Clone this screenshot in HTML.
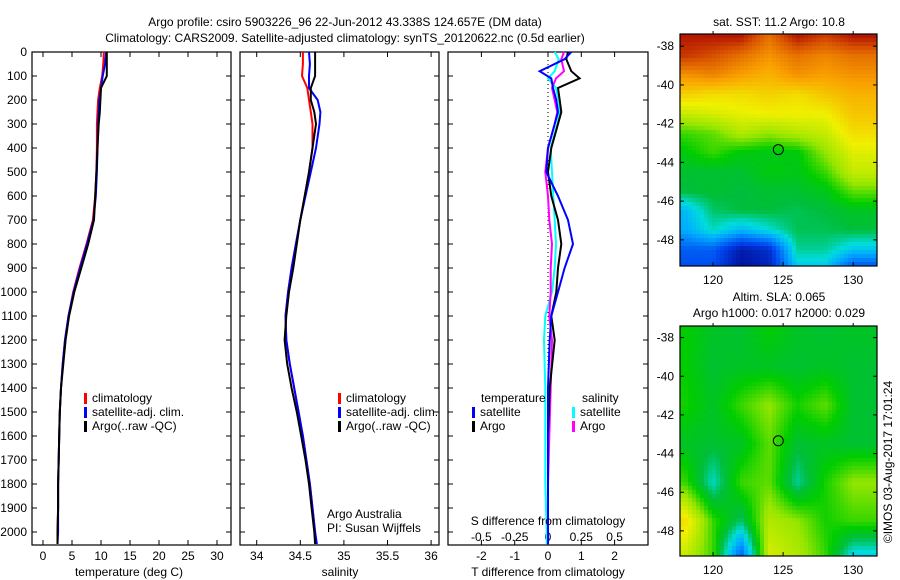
<!DOCTYPE html>
<html><head><meta charset="utf-8"><style>
body{margin:0;background:#fff}
svg{display:block;font-family:"Liberation Sans",sans-serif;font-size:12px}
</style></head><body>
<svg id="fig" width="900" height="580" viewBox="0 0 900 580"></svg>
<script>
const depths=[0,50,100,150,200,250,300,400,500,600,700,800,900,1000,1100,1200,1300,1400,1500,1600,1700,1800,1900,2000,2050];
const tempClim=[10.5,10.4,10.2,9.8,9.5,9.4,9.3,9.3,9.2,9.0,8.6,7.5,6.3,5.2,4.4,3.8,3.4,3.1,2.9,2.8,2.7,2.6,2.6,2.5,2.5];
const tempSat=[10.9,10.7,10.3,10.0,9.7,9.6,9.5,9.4,9.3,9.1,8.7,7.6,6.4,5.3,4.4,3.8,3.4,3.1,2.9,2.8,2.7,2.6,2.6,2.6,2.5];
const tempArgo=[11.0,11.0,11.0,10.0,9.9,9.8,9.6,9.4,9.2,9.0,8.8,7.8,6.6,5.4,4.5,3.9,3.5,3.1,2.9,2.8,2.7,2.6,2.6,2.5,2.5];
const salClim=[34.53,34.53,34.52,34.58,34.6,34.62,34.64,34.64,34.6,34.55,34.5,34.45,34.4,34.36,34.33,34.34,34.38,34.43,34.48,34.53,34.57,34.61,34.64,34.67,34.68];
const salSat=[34.6,34.61,34.6,34.6,34.7,34.73,34.72,34.68,34.62,34.56,34.5,34.45,34.4,34.36,34.33,34.34,34.38,34.43,34.48,34.53,34.57,34.61,34.64,34.67,34.69];
const salArgo=[34.67,34.67,34.67,34.62,34.62,34.66,34.68,34.64,34.6,34.55,34.5,34.46,34.42,34.37,34.34,34.32,34.35,34.4,34.46,34.51,34.56,34.6,34.63,34.66,34.67];
const depthsD=[0,30,80,110,150,200,250,300,400,500,600,700,800,900,1000,1100,1200,1400,1600,1800,2000,2050];
const tDiffSat=[0.7,0.5,-0.25,0.1,0.15,0.25,0.3,0.2,0.0,-0.05,0.3,0.6,0.75,0.5,0.3,0.1,0.05,0.0,0.0,0.0,0.0,0.0];
const tDiffArgo=[0.6,0.55,0.7,0.95,0.3,0.35,0.4,0.3,0.1,0.0,0.1,0.3,0.4,0.3,0.25,0.1,0.2,0.05,0.0,0.0,0.0,0.0];
const sDiffSat=[0.05,0.08,0.05,0.0,0.06,0.08,0.09,0.07,0.02,0.03,0.04,0.05,0.06,0.05,0.03,-0.02,-0.03,-0.02,-0.02,-0.02,-0.01,-0.01];
const sDiffArgo=[0.12,0.1,0.12,0.06,0.03,0.05,0.07,0.05,0.0,-0.02,0.0,0.01,0.03,0.02,0.02,0.01,0.03,0.02,0.01,0.0,0.0,0.0];
const depthTicks=[0,100,200,300,400,500,600,700,800,900,1000,1100,1200,1300,1400,1500,1600,1700,1800,1900,2000];
const tempTicks=[0,5,10,15,20,25,30];
const salTicks=[34,34.5,35,35.5,36];
const tdTicks=[-2,-1,0,1,2];
const sdTicks=[-0.5,-0.25,0,0.25,0.5];
const sdTickLabels=["-0.5","-0.25","0","0.25","0.5"];
const mapLons=[118,120,122,124,126,128,130];
const mapLonTicks=[120,125,130];
const mapLatTicks=[-38,-40,-42,-44,-46,-48];
const sstLats=[-37.5,-38.5,-39.5,-40.5,-41.5,-42.5,-43.5,-44.5,-45.5,-46.5,-47.5,-48.5,-49.3];
const sstGrid=[
[0.97,0.97,0.97,0.85,0.97,0.92,0.97],
[0.93,0.9,0.85,0.8,0.85,0.82,0.85],
[0.8,0.82,0.78,0.75,0.8,0.78,0.8],
[0.7,0.68,0.68,0.7,0.68,0.72,0.75],
[0.6,0.62,0.64,0.65,0.65,0.65,0.72],
[0.5,0.52,0.58,0.55,0.58,0.6,0.68],
[0.46,0.5,0.46,0.45,0.46,0.55,0.63],
[0.43,0.43,0.43,0.46,0.45,0.5,0.6],
[0.42,0.43,0.42,0.43,0.43,0.45,0.52],
[0.3,0.4,0.42,0.42,0.41,0.42,0.44],
[0.28,0.36,0.3,0.35,0.41,0.41,0.42],
[0.18,0.18,0.06,0.1,0.38,0.38,0.32],
[0.16,0.16,0.04,0.08,0.33,0.33,0.18]];
const slaLats=[-37.5,-39.5,-41.5,-43.5,-45.5,-47.5,-49.3];
const slaGrid=[
[0.47,0.44,0.43,0.47,0.44,0.43,0.44],
[0.47,0.43,0.44,0.44,0.43,0.44,0.43],
[0.48,0.44,0.5,0.55,0.48,0.52,0.43],
[0.44,0.43,0.44,0.52,0.43,0.44,0.43],
[0.5,0.36,0.5,0.52,0.38,0.48,0.55],
[0.68,0.5,0.4,0.58,0.55,0.48,0.5],
[0.6,0.5,0.18,0.62,0.58,0.5,0.33]];
const argoLon=124.657, argoLat=-43.338;

const NS="http://www.w3.org/2000/svg";
const svg=document.getElementById('fig');
function el(tag,attrs,parent){const e=document.createElementNS(NS,tag);for(const k in attrs)e.setAttribute(k,attrs[k]);(parent||svg).appendChild(e);return e;}
function txt(x,y,s,anchor,name){const t=el('text',{x:x,y:y,'text-anchor':anchor||'middle',fill:'#000'});t.textContent=s;


return t;}
const yTop=52, pxPer100=24;
const yD=d=>yTop+d/100*pxPer100;
const yBot=545;
function panel(x0,x1,name){const r=el('rect',{x:x0,y:yTop,width:x1-x0,height:yBot-yTop,fill:'none',stroke:'#000','stroke-width':1.2});


depthTicks.forEach(d=>{el('line',{x1:x0,x2:x0+5,y1:yD(d),y2:yD(d),stroke:'#000'});el('line',{x1:x1,x2:x1-5,y1:yD(d),y2:yD(d),stroke:'#000'});});}
function line(xs,ds,xf,color,name){const p=el('polyline',{points:xs.map((v,i)=>xf(v).toFixed(1)+','+yD(ds[i]).toFixed(1)).join(' '),fill:'none',stroke:color,'stroke-width':2});

}
function xticks(ticks,xf,labels,yl,top){ticks.forEach((t,i)=>{const x=xf(t);el('line',{x1:x,x2:x,y1:yBot,y2:yBot-5,stroke:'#000'});if(top!==false)el('line',{x1:x,x2:x,y1:yTop,y2:yTop+5,stroke:'#000'});txt(x,yl,labels?labels[i]:String(t),'middle','x-tick-label');});}

txt(345,26,'Argo profile: csiro 5903226_96 22-Jun-2012 43.338S 124.657E (DM data)','middle','figure-title');
txt(345,42,'Climatology: CARS2009. Satellite-adjusted climatology: synTS_20120622.nc (0.5d earlier)','middle','figure-subtitle');

const xT=v=>43+v*5.8;
panel(32,231,'temperature-panel');
depthTicks.forEach(d=>txt(27,yD(d)+4,String(d),'end','depth-tick-label'));
xticks(tempTicks,xT,null,560);
line(tempClim,depths,xT,'#f00','temp-climatology-line');
line(tempSat,depths,xT,'#00f','temp-satellite-line');
line(tempArgo,depths,xT,'#000','temp-argo-line');
txt(129,576,'temperature (deg C)','middle','x-axis-title-temperature');
function legend(x,y,items,prefix){items.forEach((it,i)=>{const yy=y+i*14;el('rect',{x:x,y:yy-9,width:3,height:11,fill:it[1]});txt(x+8,yy,it[0],'start',prefix+'-legend-entry');});}
legend(84,402,[['climatology','#f00'],['satellite-adj. clim.','#00f'],['Argo(..raw -QC)','#000']],'temp');

const xS=v=>256.7+(v-34)*87.2;
panel(240,439,'salinity-panel');
xticks(salTicks,xS,null,560);
line(salClim,depths,xS,'#f00','sal-climatology-line');
line(salSat,depths,xS,'#00f','sal-satellite-line');
line(salArgo,depths,xS,'#000','sal-argo-line');
txt(340,576,'salinity','middle','x-axis-title-salinity');
legend(338,402,[['climatology','#f00'],['satellite-adj. clim.','#00f'],['Argo(..raw -QC)','#000']],'sal');
txt(327,518,'Argo Australia','start','credit-argo-australia');
txt(327,532,'PI: Susan Wijffels','start','credit-pi');

const xTD=v=>548+v*33.3;
const xSD=v=>548+v*133.2;
panel(448,648,'difference-panel');
xticks(tdTicks,xTD,null,560,false);
sdTicks.forEach((t,i)=>{el('line',{x1:xSD(t),x2:xSD(t),y1:yTop,y2:yTop+5,stroke:'#000'});txt(xSD(t),541,sdTickLabels[i],'middle','s-diff-tick-label');});
el('line',{x1:548,x2:548,y1:yTop,y2:yBot,stroke:'#000','stroke-dasharray':'1,3'});
line(sDiffSat,depthsD,xSD,'#0ff','s-diff-satellite-line');
line(sDiffArgo,depthsD,xSD,'#f0f','s-diff-argo-line');
line(tDiffArgo,depthsD,xTD,'#000','t-diff-argo-line');
line(tDiffSat,depthsD,xTD,'#00f','t-diff-satellite-line');
txt(548,525,'S difference from climatology','middle','s-diff-axis-title');
txt(548,576,'T difference from climatology','middle','t-diff-axis-title');
txt(481,402,'temperature','start','legend-temperature-header');
txt(582,402,'salinity','start','legend-salinity-header');
legend(472,416,[['satellite','#00f'],['Argo','#000']],'tdiff');
legend(572,416,[['satellite','#0ff'],['Argo','#f0f']],'sdiff');

const cmStops=[[0,[0,0,130]],[0.15,[0,70,240]],[0.28,[0,170,255]],[0.35,[0,220,220]],[0.42,[0,190,60]],[0.47,[0,205,0]],[0.55,[150,230,0]],[0.65,[240,240,0]],[0.78,[250,160,0]],[0.9,[215,80,0]],[1,[165,0,0]]];
function cmap(v){v=Math.max(0,Math.min(1,v));for(let i=0;i<cmStops.length-1;i++){const a=cmStops[i],b=cmStops[i+1];if(v<=b[0]){const f=(v-a[0])/(b[0]-a[0]);return 'rgb('+a[1].map((c,k)=>Math.round(c+(b[1][k]-c)*f)).join(',')+')';}}return 'rgb(165,0,0)';}
function interp(lats,grid,lon,lat){
 let c=(lon-mapLons[0])/(mapLons[1]-mapLons[0]);c=Math.max(0,Math.min(mapLons.length-1.001,c));
 let r=0;while(r<lats.length-2&&lat<lats[r+1])r++;
 let fr=(lats[r]-lat)/(lats[r]-lats[r+1]);fr=Math.max(0,Math.min(1,fr));
 const ci=Math.floor(c),fc=c-ci;
 const a=grid[r][ci]*(1-fc)+grid[r][ci+1]*fc,b=grid[r+1][ci]*(1-fc)+grid[r+1][ci+1]*fc;
 return a*(1-fr)+b*fr;}
function map(x0,x1,yT,yB,latTop,latBot,lats,grid,name){
 const lonL=117.64,lonR=131.7;
 const xm=l=>x0+(l-lonL)/(lonR-lonL)*(x1-x0);
 const ym=l=>yT+(latTop-l)/(latTop-latBot)*(yB-yT);
 const g=el('g',{'shape-rendering':'crispEdges'});
 
 
 const cs=4;
 for(let y=yT;y<yB;y+=cs)for(let x=x0;x<x1;x+=cs){
  const lon=lonL+(x+cs/2-x0)/(x1-x0)*(lonR-lonL),lat=latTop-(y+cs/2-yT)/(yB-yT)*(latTop-latBot);
  el('rect',{x:x,y:y,width:Math.min(cs,x1-x),height:Math.min(cs,yB-y),fill:cmap(interp(lats,grid,lon,lat))},g);}
 el('rect',{x:x0,y:yT,width:x1-x0,height:yB-yT,fill:'none',stroke:'#000','stroke-width':1.2});
 mapLatTicks.forEach(l=>{const y=ym(l);el('line',{x1:x0,x2:x0+4,y1:y,y2:y,stroke:'#000'});el('line',{x1:x1,x2:x1-4,y1:y,y2:y,stroke:'#000'});txt(x0-6,y+4,String(l),'end','map-lat-tick-label');});
 mapLonTicks.forEach(l=>{const x=xm(l);el('line',{x1:x,x2:x,y1:yB,y2:yB-4,stroke:'#000'});el('line',{x1:x,x2:x,y1:yT,y2:yT-3,stroke:'#000'});txt(x,yB+18,String(l),'middle','map-lon-tick-label');});
 const c=el('circle',{cx:xm(argoLon),cy:ym(argoLat),r:5,fill:'none',stroke:'#000'});
 
 
}
map(680,877,34,266,-37.37,-49.35,sstLats,sstGrid,'sst-map');
txt(779,26,'sat. SST: 11.2 Argo: 10.8','middle','sst-map-title');
map(680,877,326,556,-37.4,-49.3,slaLats,slaGrid,'sla-map');
txt(779,301,'Altim. SLA: 0.065','middle','sla-map-title');
txt(779,317,'Argo h1000: 0.017 h2000: 0.029','middle','sla-map-subtitle');
const im=txt(0,0,'©IMOS 03-Aug-2017 17:01:24','middle','imos-timestamp');
im.setAttribute('transform','translate(892,462) rotate(-90)');
</script>
</body></html>
